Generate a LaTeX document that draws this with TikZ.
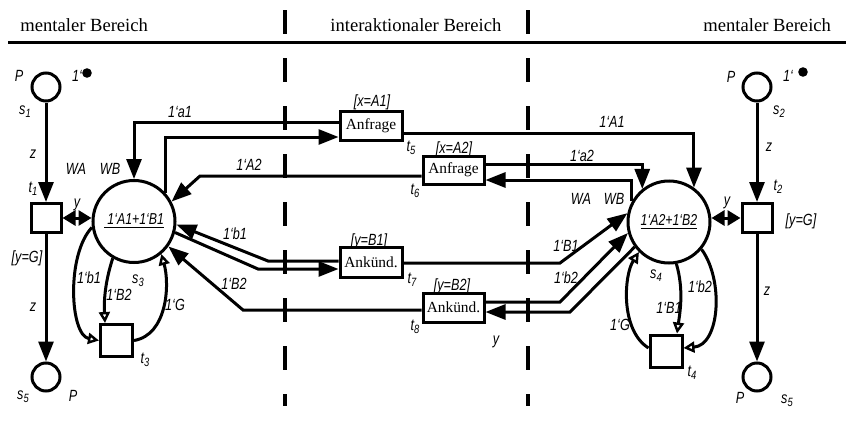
\documentclass[tikz,border=0pt]{standalone}
\usepackage{fontspec}
\setmainfont{Liberation Serif}
\newfontfamily\labfont[FakeStretch=0.78]{Liberation Sans}
\usetikzlibrary{arrows.meta}
\newcommand\lsub[2]{#1\raisebox{-0.35ex}{\fontsize{6}{6}\selectfont #2}}
\begin{document}
\begin{tikzpicture}[x=0.5pt,y=-0.5pt,
  every node/.style={inner sep=0pt},
  pl/.style={circle,draw,line width=1.5pt,minimum size=14pt},
  bigpl/.style={circle,draw,line width=1.5pt,minimum size=41pt},
  tr/.style={rectangle,draw,line width=1.5pt,minimum width=15pt,minimum height=14.5pt},
  tbox/.style={rectangle,draw,line width=1.5pt,minimum width=31pt,minimum height=14.5pt,font=\fontsize{7.7}{9}\selectfont},
  hdr/.style={anchor=base west,font=\fontsize{9.3}{11}\selectfont},
  lbl/.style={font=\labfont\itshape\fontsize{8.1}{9}\selectfont},
  parc/.style={line width=1.5pt,-{Triangle[length=10pt,width=7.5pt]}},
  biarc/.style={line width=1.5pt,{Triangle[length=6.5pt,width=7.5pt]}-{Triangle[length=6.5pt,width=7.5pt]}},
  looparc/.style={line width=1.5pt,-{Triangle[open,length=5.5pt,width=5.5pt,line width=1.2pt]}},
  divline/.style={line width=1.8pt,dash pattern=on 12pt off 12pt},
  tok/.style={circle,fill,minimum size=4.8pt},
]
\useasboundingbox (0,0) rectangle (852,423);
% header
\draw[line width=1.5pt] (8,42) -- (846,42);
\node[hdr] (h1) at (20,31.5) {mentaler Bereich};
\node[hdr] (h2) at (330,31.5) {interaktionaler Bereich};
\node[hdr] (h3) at (703,31.5) {mentaler Bereich};
\draw[divline] (285,10) -- (285,406);
\draw[divline] (528,10) -- (528,406);

% left mental area
\node[pl] (s1) at (46,87) {};
\node[tr] (t1) at (46,218) {};
\node[pl] (s5l) at (46,377) {};
\node[bigpl] (s3) at (134,221.5) {\labfont\itshape\fontsize{7.9}{9}\selectfont\underline{\ 1‘A1+1‘B1}};
\node[tr,minimum width=16pt,minimum height=16pt] (t3) at (116.5,340.5) {};
\node[tok] (k1) at (87,73) {};

% interaction area
\node[tbox] (t5) at (371,125.5) {Anfrage};
\node[tbox,minimum width=30.5pt,minimum height=14pt] (t6) at (453.5,170) {Anfrage};
\node[tbox,minimum height=15pt] (t7) at (371,262) {Ankünd.};
\node[tbox,minimum width=30.5pt] (t8) at (453.5,307.5) {Ankünd.};

% right mental area
\node[pl] (s2) at (757,87) {};
\node[tr] (t2) at (757,218) {};
\node[pl] (s5r) at (757,377) {};
\node[bigpl] (s4) at (669,222) {\labfont\itshape\fontsize{7.9}{9}\selectfont\underline{1‘A2+1‘B2}};
\node[tr,minimum width=16pt,minimum height=16pt] (t4) at (666,351) {};
\node[tok] (k2) at (803,72) {};

% left arcs
\draw[parc] (s1) -- (t1);
\draw[parc] (t1) -- (s5l);
\draw[biarc] (t1.east) -- (t1.east -| s3.west);
\draw[looparc] (s3.188) .. controls (66,255) and (70,335) .. (t3.west);
\draw[looparc] (s3.240) .. controls (104,285) and (104,305) .. ([xshift=-5.75pt]t3.north);
\draw[looparc] (t3.east) .. controls (167,335) and (170,285) .. (s3.-50);

% t5
\draw[parc] ([yshift=1.75pt]t5.west) -| (s3);
\draw[parc] (s3.42) |- ([yshift=-5.75pt]t5.west);
\draw[parc] ([yshift=-3.75pt]t5.east) -| (s4.54);
% t6
\draw[parc] ([yshift=-3pt]t6.west) -- (200,176) -- (s3.28);
\draw[parc] ([yshift=3pt]t6.east) -| (s4.129);
\draw[parc] (s4.151) |- ([yshift=-5pt]t6.east);
% t7
\draw[parc] ([yshift=0.5pt]t7.west) -- (268,261) -- (s3.-4);
\draw[parc] (s3.-15) -- (258,269) -- ([yshift=-3.5pt]t7.west);
\draw[parc] ([yshift=-0.5pt]t7.east) -- (560,263) -- (s4.168);
% t8
\draw[parc] ([yshift=-1.25pt]t8.west) -- (243,310) -- (s3.-36);
\draw[parc] ([yshift=2.75pt]t8.east) -- (560,302) -- (s4.195);
\draw[parc] (s4.216) -- (570,312) -- ([yshift=-2.25pt]t8.east);

% right arcs
\draw[parc] (s2) -- (t2);
\draw[parc] (t2) -- (s5r);
\draw[biarc] (t2.west) -- (t2.west -| s4.east);
\draw[looparc] ([yshift=1.5pt]t4.west) .. controls (620,330) and (624,275) .. (s4.225);
\draw[looparc] (s4.-80) .. controls (684,290) and (680,312) .. ([xshift=5.5pt]t4.north);
\draw[looparc] (s4.-40) .. controls (724,280) and (720,345) .. ([yshift=1.5pt]t4.east);

% labels left
\node[lbl] (lP1) at (19,76) {P};
\node[lbl] (lk1) at (77,76) {1‘};
\node[lbl] (ls1) at (25,112) {\lsub{s}{1}};
\node[lbl] (lz1) at (33,154) {z};
\node[lbl] (lt1) at (33,189) {\lsub{t}{1}};
\node[lbl] (lWA1) at (76,169) {WA};
\node[lbl] (lWB1) at (110,169) {WB};
\node[lbl] (ly1) at (77,205) {y};
\node[lbl] (lg1) at (27,258) {[y=G]};
\node[lbl] (lb1l) at (89,278) {1‘b1};
\node[lbl] (ls3) at (138,281) {\lsub{s}{3}};
\node[lbl] (lB2l) at (119,295) {1‘B2};
\node[lbl] (lG1) at (175,305) {1‘G};
\node[lbl] (lz2) at (33,307) {z};
\node[lbl] (lt3) at (145,360) {\lsub{t}{3}};
\node[lbl] (ls5l) at (23,397) {\lsub{s}{5}};
\node[lbl] (lP2) at (73,396) {P};
\node[lbl] (la1) at (180,112) {1‘a1};
\node[lbl] (lA2) at (249,165) {1‘A2};
\node[lbl] (lb1m) at (235,234) {1‘b1};
\node[lbl] (lB2m) at (234,284) {1‘B2};

% labels middle
\node[lbl] (gx1) at (372,102) {[x=A1]};
\node[lbl] (lt5) at (411,148) {\lsub{t}{5}};
\node[lbl] (gx2) at (454,149) {[x=A2]};
\node[lbl] (lt6) at (415,191) {\lsub{t}{6}};
\node[lbl] (gy1) at (369,241) {[y=B1]};
\node[lbl] (lt7) at (412,280) {\lsub{t}{7}};
\node[lbl] (gy2) at (452,286) {[y=B2]};
\node[lbl] (lt8) at (415,327) {\lsub{t}{8}};
\node[lbl] (lyb) at (496,342) {y};

% labels right
\node[lbl] (lA1) at (612,122) {1‘A1};
\node[lbl] (la2) at (582,156) {1‘a2};
\node[lbl] (lWA2) at (581,199) {WA};
\node[lbl] (lWB2) at (614,199) {WB};
\node[lbl] (lB1m) at (566,246) {1‘B1};
\node[lbl] (lb2m) at (566,278) {1‘b2};
\node[lbl] (ls4) at (656,276) {\lsub{s}{4}};
\node[lbl] (lb2r) at (700,287) {1‘b2};
\node[lbl] (lB1r) at (669,308) {1‘B1};
\node[lbl] (lG2) at (620,325) {1‘G};
\node[lbl] (lt4) at (692,373) {\lsub{t}{4}};
\node[lbl] (lP4) at (740,398) {P};
\node[lbl] (ls5r) at (787,401) {\lsub{s}{5}};
\node[lbl] (lz4) at (767,291) {z};
\node[lbl] (lz3) at (769,147) {z};
\node[lbl] (lt2) at (778,187) {\lsub{t}{2}};
\node[lbl] (lg2) at (801,221) {[y=G]};
\node[lbl] (ly2) at (727,203) {y};
\node[lbl] (lP3) at (731,77) {P};
\node[lbl] (lk2) at (788,76) {1‘};
\node[lbl] (ls2) at (779,112) {\lsub{s}{2}};
\end{tikzpicture}
\end{document}
